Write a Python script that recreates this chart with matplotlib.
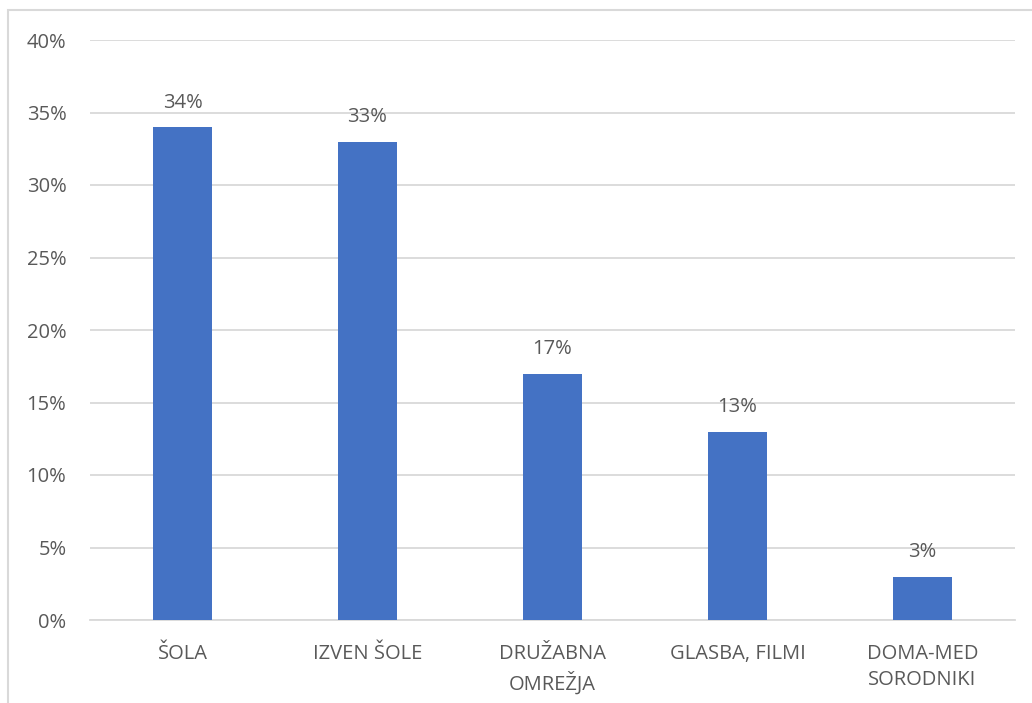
import matplotlib
matplotlib.use("Agg")
import matplotlib.pyplot as plt
from matplotlib.patches import Rectangle

categories = ["ŠOLA", "IZVEN ŠOLE", "DRUŽABNA\nOMREŽJA", "GLASBA, FILMI", "DOMA-MED\nSORODNIKI"]
values = [34, 33, 17, 13, 3]
yticks = [0, 5, 10, 15, 20, 25, 30, 35, 40]

plt.rcParams['font.family'] = ['Open Sans', 'DejaVu Sans']
txt = '#595959'
grid = '#D9D9D9'
fs = 14.5

fig = plt.figure(figsize=(10.32, 7.03), dpi=100)
fig.patches.append(Rectangle((8/1032, -0.1), 2, 1.1 - 10/703, transform=fig.transFigure,
                             fill=False, edgecolor='#D9D9D9', linewidth=1.5))
ax = fig.add_axes([90/1032, 1 - 620/703, 925/1032, 580/703])
x = range(len(categories))
ax.bar(x, values, width=0.315, color='#4472C4', zorder=3)
for xi, v in zip(x, values):
    ax.text(xi, v + 1.0, f"{v}%", ha='center', va='bottom', fontsize=fs, color=txt)

ax.set_xlim(-0.5, len(categories) - 0.5)
ax.set_ylim(0, 40)
ax.set_yticks(yticks)
ax.set_yticklabels([f"{t}%" for t in yticks], fontsize=fs, color=txt)
ax.set_xticks(list(x))
ax.set_xticklabels(categories, fontsize=fs, color=txt, linespacing=1.45)
ax.tick_params(axis='both', length=0)
ax.tick_params(axis='x', pad=17)
ax.tick_params(axis='y', pad=17)
ax.grid(axis='y', color=grid, linewidth=1.3, zorder=0)
for s in ['top', 'right', 'left']:
    ax.spines[s].set_visible(False)
ax.spines['bottom'].set_color(grid)
ax.spines['bottom'].set_linewidth(1.3)

fig.savefig("out.png", dpi=100)
